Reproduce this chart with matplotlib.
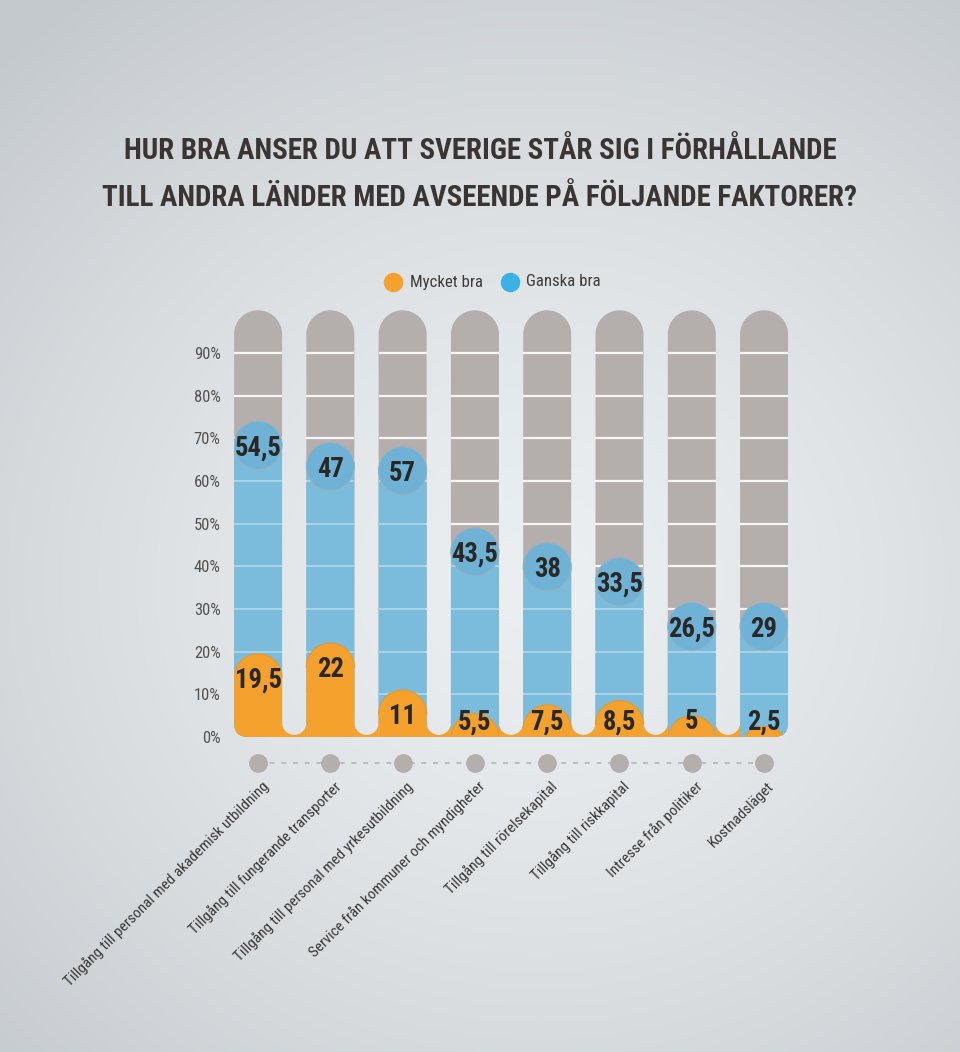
import numpy as np
import matplotlib
matplotlib.use('Agg')
import matplotlib.pyplot as plt
from matplotlib.path import Path
from matplotlib.patches import PathPatch, Ellipse, FancyBboxPatch

# --- Data ---
kategorier = [
    'Tillgång till personal med akademisk utbildning',
    'Tillgång till fungerande transporter',
    'Tillgång till personal med yrkesutbildning',
    'Service från kommuner och myndigheter',
    'Tillgång till rörelsekapital',
    'Tillgång till riskkapital',
    'Intresse från politiker',
    'Kostnadsläget',
]
mycket_bra = [19.5, 22, 11, 5.5, 7.5, 8.5, 5, 2.5]
ganska_bra = [54.5, 47, 57, 43.5, 38, 33.5, 26.5, 29]
y_ticks = list(range(0, 100, 10))
y_tick_labels = [f'{t}%' for t in y_ticks]
serie_namn = ['Mycket bra', 'Ganska bra']
titel_rader = ['HUR BRA ANSER DU ATT SVERIGE STÅR SIG I FÖRHÅLLANDE',
               'TILL ANDRA LÄNDER MED AVSEENDE PÅ FÖLJANDE FAKTORER?']

# --- Colours / fonts ---
ORANGE = '#f5a12d'
ORANGE_EDGE = '#e39a32'
BLUE = '#7bbbdb'
BLUE_DARK = '#6fb2d5'
GRAY = '#b4afad'
TEXT = '#2a2826'
FONT = ['Roboto Condensed', 'Liberation Sans Narrow', 'Roboto', 'DejaVu Sans']


def fmt(v):
    return f'{v:g}'.replace('.', ',')


W, H = 960, 1052
fig = plt.figure(figsize=(W / 100, H / 100), dpi=100)
renderer = fig.canvas.get_renderer()


def fit_size(s, target_px, **kw):
    # font size giving a text width of target_px
    t = fig.text(0, 0, s, fontsize=20, family=FONT, **kw)
    w = t.get_window_extent(renderer).width
    t.remove()
    return 20 * target_px / w


# background: soft radial gradient
bg = fig.add_axes([0, 0, 1, 1], zorder=-5)
yy, xx = np.mgrid[0:H, 0:W]
d = np.sqrt(((xx - 540) / 780.0) ** 2 + ((yy - 580) / 720.0) ** 2)
d = np.clip(d, 0, 1) ** 1.4
c0 = np.array([0.925, 0.937, 0.945])
c1 = np.array([0.77, 0.79, 0.805])
img = c0[None, None, :] * (1 - d[..., None]) + c1[None, None, :] * d[..., None]
bg.imshow(img, aspect='auto', extent=[0, 1, 0, 1], origin='upper')
bg.axis('off')

# main axes, placed so that 1 x-unit = 72.3 px and 1 % = 4.267 px
px_x = 72.29
px_y = 4.267
y_lo, y_hi = -8, 102
ax_left = 221.9
ax_bottom = 737 + (-y_lo) * px_y
ax_top = 737 - y_hi * px_y
ax = fig.add_axes([ax_left / W, (H - ax_bottom) / H,
                   8 * px_x / W, (ax_bottom - ax_top) / H])
ax.set_facecolor('none')
ax.set_xlim(-0.5, 7.5)
ax.set_ylim(y_lo, y_hi)
for s in ax.spines.values():
    s.set_visible(False)

rx = 24 / px_x
ry = 24 / px_y
n = len(kategorier)
x = np.arange(n)

# clip shape: rounded outer bottom corners of the whole bar group
clip = FancyBboxPatch((-rx, 0), (n - 1) + 2 * rx, 120,
                      boxstyle=f'round,pad=0,rounding_size={14 / px_x}',
                      mutation_aspect=px_x / px_y, fill=False, lw=0)
ax.add_patch(clip)


def cap_path(xc, y0, y1):
    yc = y1 - ry
    t = np.linspace(0, np.pi, 80)
    xs = xc + rx * np.cos(t)
    ys = np.maximum(yc + ry * np.sin(t), y0)
    verts = [(xc + rx, y0)] + list(zip(xs, ys)) + [(xc - rx, y0), (xc + rx, y0)]
    codes = [Path.MOVETO] + [Path.LINETO] * (len(verts) - 2) + [Path.CLOSEPOLY]
    return Path(verts, codes)


def add(artist):
    artist.set_clip_path(clip)
    return artist


totals = [a + b for a, b in zip(mycket_bra, ganska_bra)]
val_fs = fit_size('54,5', 47, fontweight='bold')

for i in range(n):
    xc = x[i]
    # gray background bar (100 %)
    add(ax.add_patch(PathPatch(cap_path(xc, 0, 100), fc=GRAY, ec='none', zorder=1)))
    for g in y_ticks[1:]:
        add(ax.hlines(g, xc - rx, xc + rx, color='white', lw=1.6, alpha=0.9, zorder=2))
    # blue (stacked total)
    tot = totals[i]
    add(ax.add_patch(PathPatch(cap_path(xc, 0, tot), fc=BLUE, ec='none', zorder=3)))
    for g in y_ticks[1:]:
        if g < tot - ry:
            add(ax.hlines(g, xc - rx, xc + rx, color='white', lw=1.4, alpha=0.35, zorder=4))
    circ = Ellipse((xc, tot - ry), 2 * rx, 2 * ry, fc=BLUE_DARK, ec='#93b2c2',
                   lw=0.8, zorder=5)
    add(ax.add_patch(circ))
    ax.text(xc, tot - 6.2, fmt(ganska_bra[i]), ha='center', va='center',
            fontsize=val_fs, fontweight='bold', color=TEXT, family=FONT, zorder=9)
    # orange
    v = mycket_bra[i]
    add(ax.add_patch(PathPatch(cap_path(xc, 0, v), fc=ORANGE, ec='none', zorder=6)))
    t = np.linspace(0, np.pi, 80)
    ya = v - ry + ry * np.sin(t)
    m = ya > 0.3
    add(ax.plot((xc + rx * np.cos(t))[m], ya[m], color=ORANGE_EDGE, lw=0.8, zorder=7)[0])
    ax.text(xc, max(v - 6.2, 3.6), fmt(v), ha='center', va='center',
            fontsize=val_fs, fontweight='bold', color=TEXT, family=FONT, zorder=9)

# orange fillets in the gaps at the bottom
rgy = 12 / px_y
for i in range(n - 1):
    xa, xb = x[i] + rx, x[i + 1] - rx
    xm, rgx = (xa + xb) / 2, (xb - xa) / 2
    ycg = 0.5 + rgy
    t = np.linspace(0, -np.pi, 40)
    verts = [(xa, 0), (xb, 0)] + list(zip(xm + rgx * np.cos(t), ycg + rgy * np.sin(t))) + [(xa, 0)]
    codes = [Path.MOVETO] + [Path.LINETO] * (len(verts) - 2) + [Path.CLOSEPOLY]
    add(ax.add_patch(PathPatch(Path(verts, codes), fc=ORANGE, ec='none', zorder=6)))

# category dots with dashed connector
ax.plot([x[0], x[-1]], [-6.1, -6.1], color='#b5b5b5', lw=1.2, ls=(0, (3, 4)),
        zorder=1, clip_on=False)
ax.plot(x, [-6.1] * n, 'o', ms=12.5, color=GRAY, zorder=2, clip_on=False)

# rotated category labels
cat_fs = fit_size(kategorier[0], 281)
for i, lab in enumerate(kategorier):
    ax.text(x[i] + 0.04, -9.8, lab, rotation=45, rotation_mode='anchor',
            ha='right', va='top', fontsize=cat_fs, color='#3a3836', family=FONT,
            clip_on=False)

# y ticks
ax.set_xticks([])
ax.set_yticks(y_ticks)
ax.set_yticklabels(y_tick_labels, family=FONT, fontsize=fit_size('90%', 27),
                   color='#55524f')
ax.tick_params(axis='y', length=0, pad=1)

# title
title_fs = fit_size(titel_rader[0], 716, fontweight='bold')
fig.text(0.5, 1 - 159 / H, titel_rader[0], ha='center', va='baseline',
         fontsize=title_fs, fontweight='bold', color='#3a3532', family=FONT)
fig.text(0.5, 1 - 206 / H, titel_rader[1], ha='center', va='baseline',
         fontsize=title_fs, fontweight='bold', color='#3a3532', family=FONT)

# legend
ly = 1 - 282 / H
leg_fs = fit_size(serie_namn[0], 73)
fig.add_artist(plt.Line2D([393 / W], [ly], marker='o', ms=13, color=ORANGE, ls='none'))
fig.text(410 / W, ly, serie_namn[0], ha='left', va='center', fontsize=leg_fs,
         color='#3f3c3a', family=FONT)
fig.add_artist(plt.Line2D([510 / W], [ly], marker='o', ms=13, color='#3ab2e6', ls='none'))
fig.text(526 / W, ly, serie_namn[1], ha='left', va='center', fontsize=leg_fs,
         color='#3f3c3a', family=FONT)

fig.savefig('out.png', dpi=100)
